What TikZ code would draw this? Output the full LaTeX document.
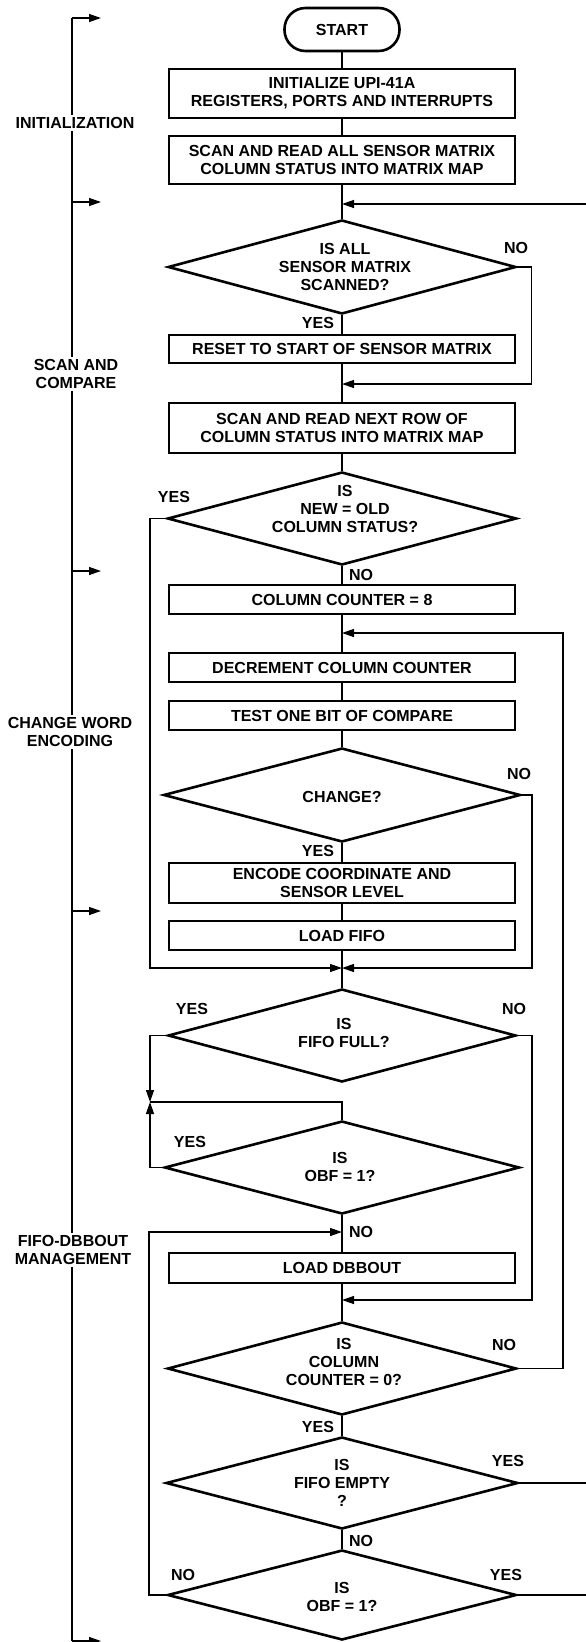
\documentclass[tikz,border=0pt]{standalone}
\usepackage{fontspec}
\setmainfont{Liberation Sans}
\usetikzlibrary{shapes.geometric,arrows.meta}
\begin{document}
\begin{tikzpicture}[x=1pt,y=-1pt,
  every node/.style={font=\fontsize{16}{18}\selectfont\bfseries},
  procbox/.style={draw, line width=2.6pt, rectangle, minimum width=346pt, inner sep=0pt, align=center},
  dia/.style={draw, line width=2.6pt, diamond, inner sep=0pt},
  txt/.style={align=center, inner sep=0pt},
  lbl/.style={inner sep=0pt},
  sec/.style={align=center, fill=white, inner sep=2pt},
  flow/.style={line width=1.3pt},
  arr/.style={flow, -{Triangle[length=12pt,width=8pt]}},
]
\useasboundingbox (0,0) rectangle (586,1642);

% ---------- process boxes and decisions ----------
\node[procbox, rounded corners=21pt, minimum width=115pt, minimum height=43pt] (start) at (342,29.5) {START};
\node[procbox, minimum height=49pt] (b1) at (342,93.5) {INITIALIZE UPI-41A\\REGISTERS, PORTS AND INTERRUPTS};
\node[procbox, minimum height=48pt] (b2) at (342,160) {SCAN AND READ ALL SENSOR MATRIX\\COLUMN STATUS INTO MATRIX MAP};
\node[dia, minimum width=348pt, minimum height=94pt] (d1) at (342,267) {};
\node[txt] (d1t) at (345,267) {IS ALL\\SENSOR MATRIX\\SCANNED?};
\node[procbox, minimum height=28pt] (b3) at (342,349) {RESET TO START OF SENSOR MATRIX};
\node[procbox, minimum height=50pt] (b4) at (342,428) {SCAN AND READ NEXT ROW OF\\COLUMN STATUS INTO MATRIX MAP};
\node[dia, minimum width=349pt, minimum height=93pt] (d2) at (342,518.5) {};
\node[txt] (d2t) at (345,509) {IS\\NEW = OLD\\COLUMN STATUS?};
\node[procbox, minimum height=29pt] (b5) at (342,599.5) {COLUMN COUNTER = 8};
\node[procbox, minimum height=29pt] (b6) at (342,667.5) {DECREMENT COLUMN COUNTER};
\node[procbox, minimum height=29pt] (b7) at (342,715.5) {TEST ONE BIT OF COMPARE};
\node[dia, minimum width=357pt, minimum height=94pt] (d3) at (342,795) {};
\node[txt] (d3t) at (342,797) {CHANGE?};
\node[procbox, minimum height=40pt] (b8) at (342,883) {ENCODE COORDINATE AND\\SENSOR LEVEL};
\node[procbox, minimum height=29pt] (b9) at (342,935.5) {LOAD FIFO};
\node[dia, minimum width=348pt, minimum height=93pt] (d4) at (342,1035.5) {};
\node[txt] (d4t) at (344,1033) {IS\\FIFO FULL?};
\node[dia, minimum width=355pt, minimum height=93pt] (d5) at (342,1167.5) {};
\node[txt] (d5t) at (340,1166.5) {IS\\OBF = 1?};
\node[procbox, minimum height=30pt] (b10) at (342,1268) {LOAD DBBOUT};
\node[dia, minimum width=349pt, minimum height=93pt] (d6) at (342,1368.5) {};
\node[txt] (d6t) at (344,1362) {IS\\COLUMN\\COUNTER = 0?};
\node[dia, minimum width=352pt, minimum height=92pt] (d7) at (342,1483) {};
\node[txt] (d7t) at (342,1483) {IS\\FIFO EMPTY\\?};
\node[dia, minimum width=349pt, minimum height=90pt] (d8) at (342,1595) {};
\node[txt] (d8t) at (342,1596.5) {IS\\OBF = 1?};

% ---------- branch labels ----------
\node[lbl] (l1n) at (516,248) {NO};
\node[lbl] (l1y) at (318,323) {YES};
\node[lbl] (l2y) at (174,497) {YES};
\node[lbl] (l2n) at (361,575) {NO};
\node[lbl] (l3n) at (519,774) {NO};
\node[lbl] (l3y) at (318,851) {YES};
\node[lbl] (l4y) at (192,1009) {YES};
\node[lbl] (l4n) at (514,1009) {NO};
\node[lbl] (l5y) at (190,1142) {YES};
\node[lbl] (l5n) at (361,1232) {NO};
\node[lbl] (l6n) at (504,1345) {NO};
\node[lbl] (l6y) at (318,1427) {YES};
\node[lbl] (l7y) at (508,1461) {YES};
\node[lbl] (l7n) at (361,1541) {NO};
\node[lbl] (l8n) at (183,1575) {NO};
\node[lbl] (l8y) at (506,1575) {YES};

% ---------- main flow ----------
\draw[flow] (start) -- (b1);
\draw[flow] (b1) -- (b2);
\draw[flow] (b2) -- (d1);
\draw[flow] (d1) -- (b3);
\draw[flow] (b3) -- (b4);
\draw[flow] (b4) -- (d2);
\draw[flow] (d2) -- (b5);
\draw[flow] (b5) -- (b6);
\draw[flow] (b6) -- (b7);
\draw[flow] (b7) -- (d3);
\draw[flow] (d3) -- (b8);
\draw[flow] (b8) -- (b9);
\draw[flow] (b9) -- (d4);
\draw[flow] (d5) -- (b10);
\draw[flow] (b10) -- (d6);
\draw[flow] (d6) -- (d7);
\draw[flow] (d7) -- (d8);

% ---------- loops and branches ----------
\coordinate (rin) at (586,204);
\draw[arr] (rin) -- (rin -| b2.south);
\draw[arr] (d1.east) -- ++(14,0) |- (b3.south |- 0,384);
\draw[arr] (d2.west) -- (150,518.5) |- (b9.south |- 0,968);
\draw[arr] (d3.east) -- (532,795) |- (b9.south |- 0,968);
\draw[arr] (d6.east) -- (563,1368.5) |- (b5.south |- 0,633);
\coordinate (jn) at (150,1102);
\draw[arr] (d4.west) -| (jn);
\draw[arr] (d5.west) -| (jn);
\draw[flow] (jn) -| (d5.north);
\draw[arr] (d4.east) -- (532,1035.5) |- (b10.south |- 0,1300);
\draw[arr] (d8.west) -- (149,1595) |- (b10.north |- 0,1232);
\coordinate (rout1) at (586,1483);
\coordinate (rout2) at (586,1595);
\draw[flow] (d7.east) -- (rout1);
\draw[flow] (d8.east) -- (rout2);

% ---------- section bracket ----------
\coordinate (bt) at (72,18);
\coordinate (bb) at (72,1641);
\draw[flow] (bt) -- (bb);
\foreach \yy in {18,202,571,911,1641}
  \draw[arr] (72,\yy) -- (101,\yy);
\node[sec] (s1) at (75,123) {INITIALIZATION};
\node[sec] (s2) at (76,374) {SCAN AND\\COMPARE};
\node[sec] (s3) at (70,732) {CHANGE WORD\\ENCODING};
\node[sec] (s4) at (73,1250) {FIFO-DBBOUT\\MANAGEMENT};
\end{tikzpicture}
\end{document}
